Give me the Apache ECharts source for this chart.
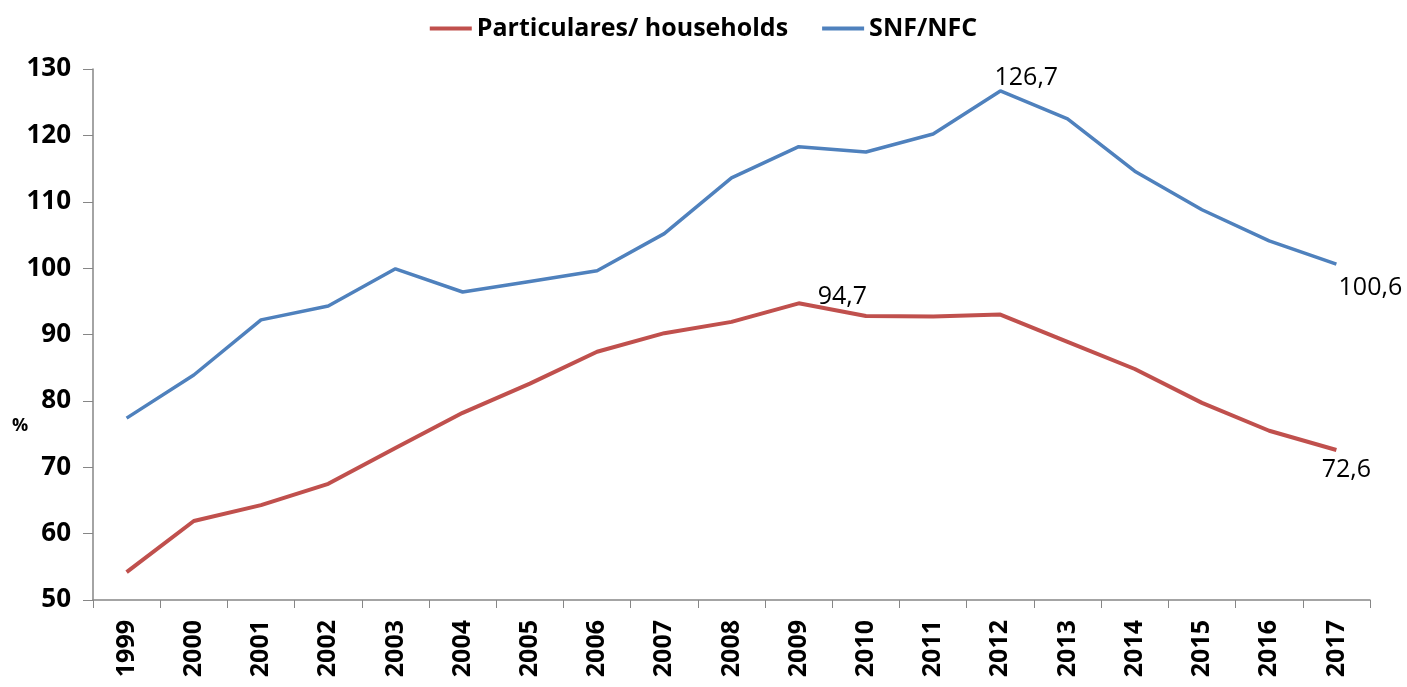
<!DOCTYPE html>
<html>
<head>
<meta charset="utf-8">
<script src="https://cdn.jsdelivr.net/npm/echarts@6/dist/echarts.min.js"></script>
<style>
  html, body { margin: 0; padding: 0; background: #fff; }
  #chart { width: 1407px; height: 687px; }
</style>
</head>
<body>
<div id="chart"></div>
<script>
  'use strict';

  // data
  var years = ['1999', '2000', '2001', '2002', '2003', '2004', '2005', '2006', '2007', '2008',
    '2009', '2010', '2011', '2012', '2013', '2014', '2015', '2016', '2017'];
  var households = [54.2, 61.9, 64.3, 67.5, 72.9, 78.2, 82.6, 87.4, 90.2, 91.9,
    94.7, 92.8, 92.7, 93.0, 88.9, 84.8, 79.7, 75.5, 72.6];
  var nfc = [77.4, 83.9, 92.2, 94.3, 99.9, 96.4, 98.0, 99.6, 105.2, 113.6,
    118.3, 117.5, 120.2, 126.7, 122.5, 114.6, 108.8, 104.1, 100.6];
  var yTicks = [50, 60, 70, 80, 90, 100, 110, 120, 130];

  var font = 'Open Sans, Liberation Sans, sans-serif';

  // only a few points carry a value label
  function withLabels(values, marks) {
    return values.map(function (v, i) {
      var m = marks[i];
      if (!m) return v;
      return {
        value: v,
        label: {
          show: true,
          position: m.position,
          offset: m.offset,
          formatter: function (p) { return String(p.value).replace('.', ','); },
          fontFamily: font,
          fontSize: 25,
          color: '#000'
        }
      };
    });
  }

  var hhMarks = {};
  hhMarks[10] = { position: 'right', offset: [14, -6] };
  hhMarks[18] = { position: 'bottom', offset: [10, 2] };
  var nfcMarks = {};
  nfcMarks[13] = { position: 'top', offset: [26, 4] };
  nfcMarks[18] = { position: 'bottom', offset: [34, 6] };

  var myChart = echarts.init(document.getElementById('chart'));
  var options = {
    animation: false,
    legend: {
      top: 11,
      left: 'center',
      itemWidth: 42,
      itemHeight: 4,
      itemGap: 34,
      icon: 'rect',
      textStyle: { fontFamily: font, fontWeight: 'bold', fontSize: 25, color: '#000' },
      data: ['Particulares/ households', 'SNF/NFC']
    },
    grid: { left: 93, right: 37, top: 69, bottom: 87, containLabel: false },
    graphic: [{
      type: 'text',
      left: 12,
      top: 417,
      style: { text: '%', fontFamily: font, fontWeight: 'bold', fontSize: 18, fill: '#000' }
    }],
    xAxis: {
      type: 'category',
      data: years,
      boundaryGap: true,
      axisLine: { lineStyle: { color: '#868686', width: 1.5 } },
      axisTick: { show: true, length: 8, interval: 0, lineStyle: { color: '#868686' } },
      axisLabel: {
        rotate: 90,
        interval: 0,
        margin: 20,
        fontFamily: font,
        fontWeight: 'bold',
        fontSize: 25,
        color: '#000'
      },
      splitLine: { show: false }
    },
    yAxis: {
      type: 'value',
      min: yTicks[0],
      max: yTicks[yTicks.length - 1],
      interval: 10,
      axisLine: { show: true, lineStyle: { color: '#868686', width: 1.5 } },
      axisTick: { show: true, length: 10, lineStyle: { color: '#868686' } },
      axisLabel: {
        margin: 22,
        fontFamily: font,
        fontWeight: 'bold',
        fontSize: 26,
        color: '#000'
      },
      splitLine: { show: false }
    },
    series: [{
      name: 'Particulares/ households',
      type: 'line',
      data: withLabels(households, hhMarks),
      symbol: 'circle',
      symbolSize: 0,
      showAllSymbol: true,
      color: '#c0504d',
      lineStyle: { width: 4, color: '#c0504d' }
    }, {
      name: 'SNF/NFC',
      type: 'line',
      data: withLabels(nfc, nfcMarks),
      symbol: 'circle',
      symbolSize: 0,
      showAllSymbol: true,
      color: '#4f81bd',
      lineStyle: { width: 3.5, color: '#4f81bd' }
    }]
  };
  myChart.setOption(options);
</script>
</body>
</html>
